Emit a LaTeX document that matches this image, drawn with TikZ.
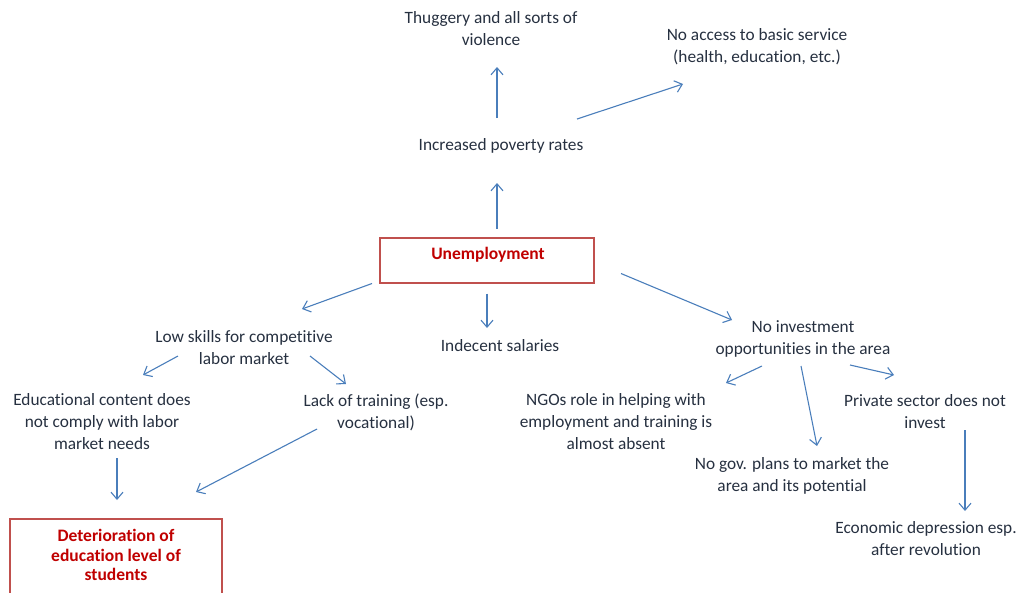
\documentclass[tikz,border=0pt]{standalone}
\usepackage{fontspec}
\setmainfont[Ligatures=NoCommon]{Carlito}
\usetikzlibrary{arrows.meta}
\definecolor{txt}{RGB}{38,48,64}
\definecolor{arrowblue}{RGB}{74,126,187}
\definecolor{boxred}{RGB}{192,80,77}
\definecolor{deepred}{RGB}{192,0,0}
\begin{document}
\begin{tikzpicture}[x=1pt,y=-1pt,
  every node/.style={inner sep=0pt,outer sep=0pt},
  lbl/.style={align=center,text=txt,font=\fontsize{17.3}{22}\selectfont},
  keybox/.style={draw=boxred,line width=2.8pt,fill=white,rectangle},
  keytext/.style={align=center,text=deepred,font=\fontsize{17.5}{19.5}\selectfont\bfseries},
  link/.style={draw=arrowblue,line width=1.1pt,-{Straight Barb[length=7pt,width=12pt,line width=1.1pt]}}]
\useasboundingbox (0,0) rectangle (1019,592);

% causes and effects
\node[lbl] (thug) at (491,29) {Thuggery and all sorts of\\violence};
\node[lbl] (acc) at (757,47) {No access to basic service\\(health, education, etc.)};
\node[lbl] (pov) at (501,146) {Increased poverty rates};

\node[keybox,minimum width=214pt,minimum height=45pt] (unemp) at (487,260.5) {};
\node[keytext] (unempt) at (488,255) {Unemployment};

\node[lbl] (low) at (244,348) {Low skills for competitive\\labor market};
\node[lbl] (ind) at (500,346) {Indecent salaries};
\node[lbl] (noinv) at (803,339) {No investment\\opportunities in the area};

\node[lbl] (edu) at (102,422) {Educational content does\\not comply with labor\\market needs};
\node[lbl] (lack) at (376,412) {Lack of training (esp.\\vocational)};
\node[lbl] (ngo) at (616,422) {NGOs role in helping with\\employment and training is\\almost absent};
\node[lbl] (priv) at (925,412) {Private sector does not\\invest};
\node[lbl] (gov) at (792,476) {No gov. plans to market the\\area and its potential};
\node[lbl] (econ) at (926,539) {Economic depression esp.\\after revolution};

\node[keybox,minimum width=212pt,minimum height=84pt] (det) at (116,561) {};
\node[keytext] (dett) at (116,555) {Deterioration of\\education level of\\students};

% arrows
\draw[link] ([shift={(-4,-28)}]pov.center) -- ([shift={(6,38)}]thug.center);
\draw[link] ([shift={(76,-27)}]pov.center) -- ([shift={(-74,37)}]acc.center);
\draw[link] ([shift={(10,-32)}]unemp.center) -- ([shift={(-4,37)}]pov.center);
\draw[link] ([shift={(-115,23)}]unemp.center) -- ([shift={(58,-39)}]low.center);
\draw[link] ([shift={(0,33)}]unemp.center) -- ([shift={(-13,-18)}]ind.center);
\draw[link] ([shift={(134,13)}]unemp.center) -- ([shift={(-71,-19)}]noinv.center);
\draw[link] ([shift={(-66,8)}]low.center) -- ([shift={(41,-47)}]edu.center);
\draw[link] ([shift={(66,8)}]low.center) -- ([shift={(-30,-28)}]lack.center);
\draw[link] ([shift={(15,36)}]edu.center) -- ([shift={(1,-61)}]det.center);
\draw[link] ([shift={(-59,17)}]lack.center) -- ([shift={(80,-69)}]det.center);
\draw[link] ([shift={(-41,27)}]noinv.center) -- ([shift={(110,-39)}]ngo.center);
\draw[link] ([shift={(-2,27)}]noinv.center) -- ([shift={(25,-30)}]gov.center);
\draw[link] ([shift={(47,26)}]noinv.center) -- ([shift={(-31,-37)}]priv.center);
\draw[link] ([shift={(40,18)}]priv.center) -- ([shift={(39,-28)}]econ.center);
\end{tikzpicture}
\end{document}
